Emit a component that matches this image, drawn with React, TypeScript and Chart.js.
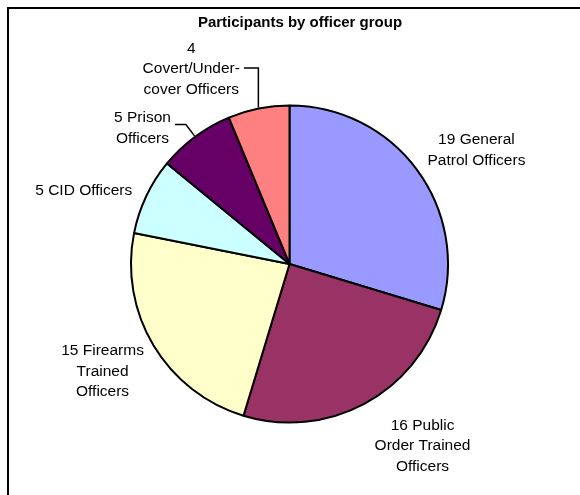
import React, { useEffect, useRef } from "react";
import { Chart, registerables } from "chart.js";

Chart.register(...registerables);

// ---- data ----
const chartTitle = "Participants by officer group";
const categories = [
  "General Patrol Officers",
  "Public Order Trained Officers",
  "Firearms Trained Officers",
  "CID Officers",
  "Prison Officers",
  "Covert/Undercover Officers",
];
const values = [19, 16, 15, 5, 5, 4];
// wrapped label text (value is prefixed to the first line)
const labelLines = [
  ["General", "Patrol Officers"],
  ["Public", "Order Trained", "Officers"],
  ["Firearms", "Trained", "Officers"],
  ["CID Officers"],
  ["Prison", "Officers"],
  ["", "Covert/Under-", "cover Officers"],
];

// ---- style / layout ----
const colors = ["#9999FF", "#993366", "#FFFFCC", "#CCFFFF", "#660066", "#FF8080"];
const FONT = '"Liberation Sans", Arial, Helvetica, sans-serif';
const LABEL_FONT_PX = 15.5;
const LINE_H = 20.5;
// label centre as a multiple of the pie radius, from the pie centre
const labelPos = [
  [1.172, -0.7125],
  [0.834, 1.14],
  [-1.172, 0.675],
  [-1.29, -0.4625],
  [-0.922, -0.85],
  [-0.616, -1.222],
];
// leader lines: stub length (null = run to the arc's x), vertical offset of stub
const leaders: ({ stub: number | null; dy: number } | null)[] = [
  null,
  null,
  null,
  null,
  { stub: 11, dy: -4 },
  { stub: null, dy: -1 },
];
const W = 580;
const H = 495;
const FRAME_LEFT = 7;
const FRAME_TOP = 7;
const FRAME_W = 586;

const labelsPlugin = {
  id: "pieLabels",
  afterDatasetsDraw(chart: any) {
    const ctx = chart.ctx as CanvasRenderingContext2D;
    const meta = chart.getDatasetMeta(0);
    ctx.save();
    ctx.font = `${LABEL_FONT_PX}px ${FONT}`;
    ctx.fillStyle = "#000";
    ctx.textAlign = "center";
    ctx.textBaseline = "middle";
    meta.data.forEach((arc: any, i: number) => {
      const { x, y, startAngle, endAngle, outerRadius } = arc.getProps(
        ["x", "y", "startAngle", "endAngle", "outerRadius"],
        true
      );
      const r = outerRadius + 1;
      const lines = labelLines[i].map((t, k) =>
        k === 0 ? `${values[i]} ${t}`.trim() : t
      );
      const cx = x + labelPos[i][0] * r;
      const cy = y + labelPos[i][1] * r;
      const n = lines.length;
      lines.forEach((t, k) => ctx.fillText(t, cx, cy + (k - (n - 1) / 2) * LINE_H));
      const ld = leaders[i];
      if (ld) {
        const mid = (startAngle + endAngle) / 2;
        const px = x + r * Math.cos(mid);
        const py = y + r * Math.sin(mid);
        const w = Math.max(...lines.map((t) => ctx.measureText(t).width));
        const sx = cx + w / 2 + 4;
        const sy = cy + ld.dy;
        const ex = ld.stub == null ? px : sx + ld.stub;
        ctx.beginPath();
        ctx.strokeStyle = "#000";
        ctx.lineWidth = 1.5;
        ctx.moveTo(sx, sy);
        ctx.lineTo(ex, sy);
        ctx.lineTo(px, py);
        ctx.stroke();
      }
    });
    ctx.restore();
  },
};

const titlePlugin = {
  id: "frameTitle",
  afterDraw(chart: any) {
    const ctx = chart.ctx as CanvasRenderingContext2D;
    ctx.save();
    ctx.font = `bold 15px ${FONT}`;
    ctx.fillStyle = "#000";
    ctx.textAlign = "center";
    ctx.textBaseline = "middle";
    ctx.fillText(chartTitle, FRAME_LEFT + FRAME_W / 2, 23);
    ctx.restore();
  },
};

export default function App() {
  const ref = useRef<HTMLCanvasElement | null>(null);
  useEffect(() => {
    if (!ref.current) return;
    const chart = new Chart(ref.current, {
      type: "pie",
      data: {
        labels: categories,
        datasets: [
          {
            data: values,
            backgroundColor: colors,
            borderColor: "#000",
            borderWidth: 2,
          },
        ],
      },
      options: {
        responsive: false,
        maintainAspectRatio: false,
        animation: false,
        layout: { padding: { left: 130, right: 131, top: 104, bottom: 71 } },
        plugins: {
          legend: { display: false },
          title: { display: false },
          tooltip: { enabled: false },
        },
      },
      plugins: [labelsPlugin, titlePlugin],
    });
    return () => chart.destroy();
  }, []);

  return (
    <div
      style={{
        position: "fixed",
        left: 0,
        top: 0,
        width: W,
        height: H,
        overflow: "hidden",
        background: "#fff",
      }}
    >
      <div
        style={{
          position: "absolute",
          left: FRAME_LEFT,
          top: FRAME_TOP,
          width: FRAME_W,
          height: 540,
          borderLeft: "2px solid #000",
          borderTop: "2px solid #000",
        }}
      />
      <canvas
        ref={ref}
        width={W}
        height={H}
        style={{ position: "absolute", left: 0, top: 0, width: W, height: H }}
      />
    </div>
  );
}
